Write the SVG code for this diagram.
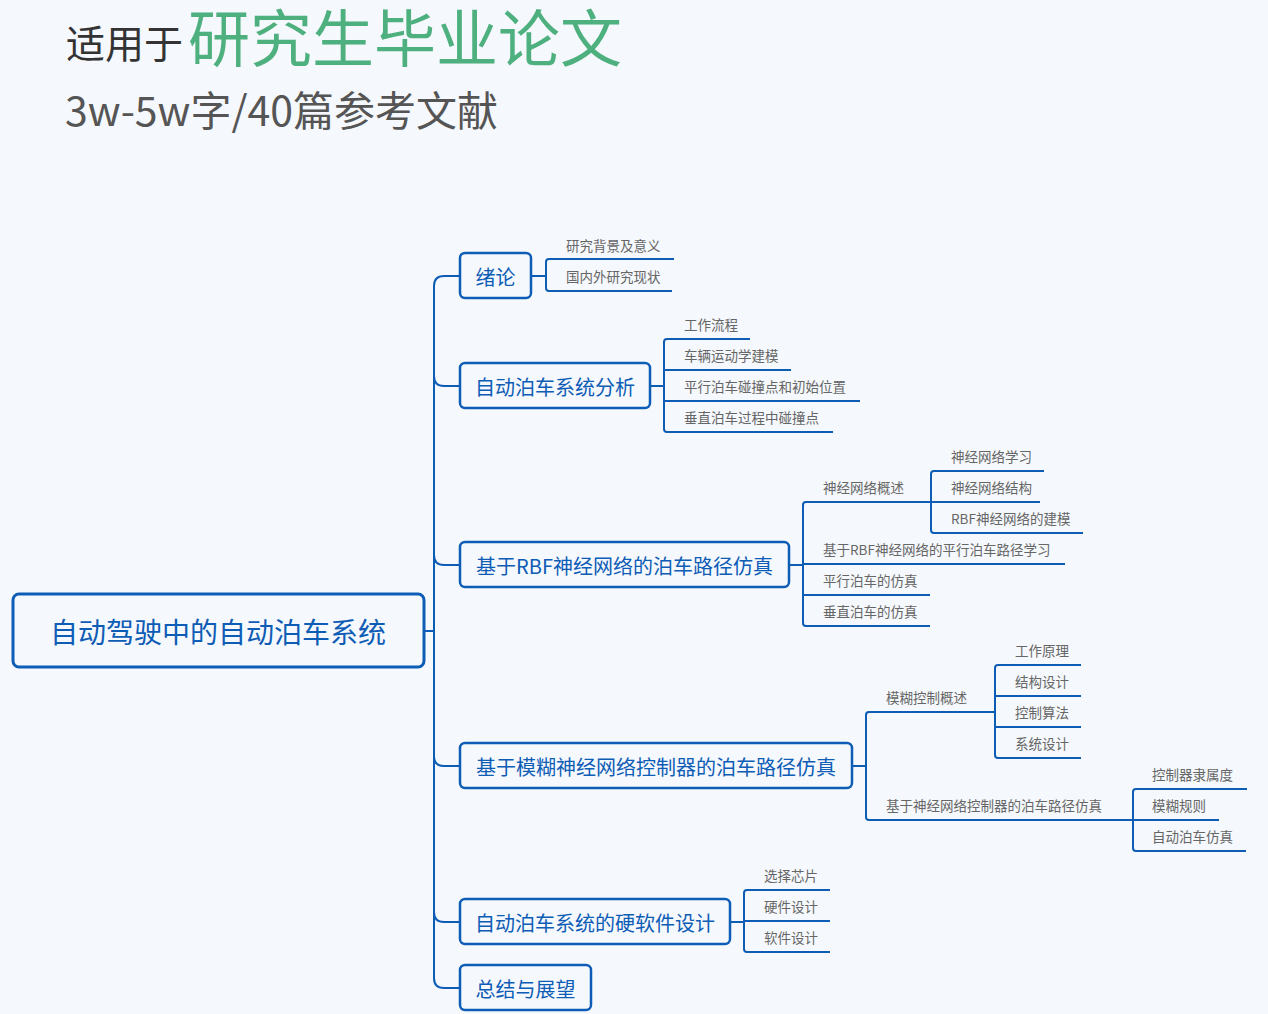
<svg xmlns="http://www.w3.org/2000/svg" width="1268" height="1014" viewBox="0 0 1268 1014">
<style>
text{font-family:"Noto Sans CJK SC","Noto Sans",sans-serif}
.box{fill:none;stroke:#0d5cb6;stroke-width:2.5}
.root{fill:none;stroke:#0d5cb6;stroke-width:3}
.ln{fill:none;stroke:#0d5cb6;stroke-width:2}
.bt{fill:#0d5cb6;font-size:20px;text-anchor:middle;dominant-baseline:central}
.lf{fill:#666;font-size:13.5px}
</style>
<rect width="1268" height="1014" fill="#f5f8fc"/>
<text x="66" y="58" font-size="39" fill="#333">适用于</text>
<text x="188" y="62" font-size="62" fill="#4fb07f">研究生毕业论文</text>
<text x="65" y="126" font-size="41" fill="#555">3w-5w字/40篇参考文献</text>
<g id="connectors">
<path class="ln" d="M424,631 H434 M460,276 H444 Q434,276 434,286 V978 Q434,988 444,988 H460 M434,376 Q434,386 444,386 H460 M434,555 Q434,565 444,565 H460 M434,756 Q434,766 444,766 H460 M434,912 Q434,922 444,922 H460"/>
<path class="ln" d="M531,276 H546 M674,259 H549 Q546,259 546,262 V288 Q546,291 549,291 H672"/>
<path class="ln" d="M650,386 H664 M750,339 H667 Q664,339 664,342 V429 Q664,432 667,432 H833 M664,370 H791 M664,401 H860"/>
<path class="ln" d="M789,565 H803 M931,502 H806 Q803,502 803,505 V623 Q803,626 806,626 H930 M803,564 H1065 M803,595 H930"/>
<path class="ln" d="M1044,471 H934 Q931,471 931,474 V530 Q931,533 934,533 H1083 M931,502 H1040"/>
<path class="ln" d="M852,766 H866 M995,712 H869 Q866,712 866,715 V817 Q866,820 869,820 H1133"/>
<path class="ln" d="M1081,665 H998 Q995,665 995,668 V755 Q995,758 998,758 H1081 M995,696 H1081 M995,727 H1081"/>
<path class="ln" d="M1247,789 H1136 Q1133,789 1133,792 V848 Q1133,851 1136,851 H1246 M1133,820 H1219"/>
<path class="ln" d="M730,922 H744 M830,890 H747 Q744,890 744,893 V949 Q744,952 747,952 H830 M744,921 H830"/>
</g>
<g id="root"><rect class="root" x="13" y="594" width="411" height="73" rx="6"/><text class="bt" x="218" y="631" style="font-size:28px">自动驾驶中的自动泊车系统</text></g>
<g id="n1"><rect class="box" x="460" y="253" width="71" height="45" rx="5"/><text class="bt" x="495.5" y="276">绪论</text></g>
<g id="n2"><rect class="box" x="460" y="363" width="190" height="45" rx="5"/><text class="bt" x="555" y="386">自动泊车系统分析</text></g>
<g id="n3"><rect class="box" x="460" y="542" width="329" height="45" rx="5"/><text class="bt" x="624.5" y="565">基于RBF神经网络的泊车路径仿真</text></g>
<g id="n4"><rect class="box" x="460" y="743" width="392" height="45" rx="5"/><text class="bt" x="656" y="766">基于模糊神经网络控制器的泊车路径仿真</text></g>
<g id="n5"><rect class="box" x="460" y="899" width="270" height="45" rx="5"/><text class="bt" x="595" y="922">自动泊车系统的硬软件设计</text></g>
<g id="n6"><rect class="box" x="460" y="965" width="131" height="45" rx="5"/><text class="bt" x="525.5" y="988">总结与展望</text></g>
<g id="leaves">
<text class="lf" x="566" y="251">研究背景及意义</text>
<text class="lf" x="566" y="282">国内外研究现状</text>
<text class="lf" x="684" y="330">工作流程</text>
<text class="lf" x="684" y="361">车辆运动学建模</text>
<text class="lf" x="684" y="392">平行泊车碰撞点和初始位置</text>
<text class="lf" x="684" y="423">垂直泊车过程中碰撞点</text>
<text class="lf" x="823" y="493">神经网络概述</text>
<text class="lf" x="823" y="555">基于RBF神经网络的平行泊车路径学习</text>
<text class="lf" x="823" y="586">平行泊车的仿真</text>
<text class="lf" x="823" y="617">垂直泊车的仿真</text>
<text class="lf" x="951" y="462">神经网络学习</text>
<text class="lf" x="951" y="493">神经网络结构</text>
<text class="lf" x="951" y="524">RBF神经网络的建模</text>
<text class="lf" x="886" y="703">模糊控制概述</text>
<text class="lf" x="886" y="811">基于神经网络控制器的泊车路径仿真</text>
<text class="lf" x="1015" y="656">工作原理</text>
<text class="lf" x="1015" y="687">结构设计</text>
<text class="lf" x="1015" y="718">控制算法</text>
<text class="lf" x="1015" y="749">系统设计</text>
<text class="lf" x="1152" y="780">控制器隶属度</text>
<text class="lf" x="1152" y="811">模糊规则</text>
<text class="lf" x="1152" y="842">自动泊车仿真</text>
<text class="lf" x="764" y="881">选择芯片</text>
<text class="lf" x="764" y="912">硬件设计</text>
<text class="lf" x="764" y="943">软件设计</text>
</g>
</svg>
